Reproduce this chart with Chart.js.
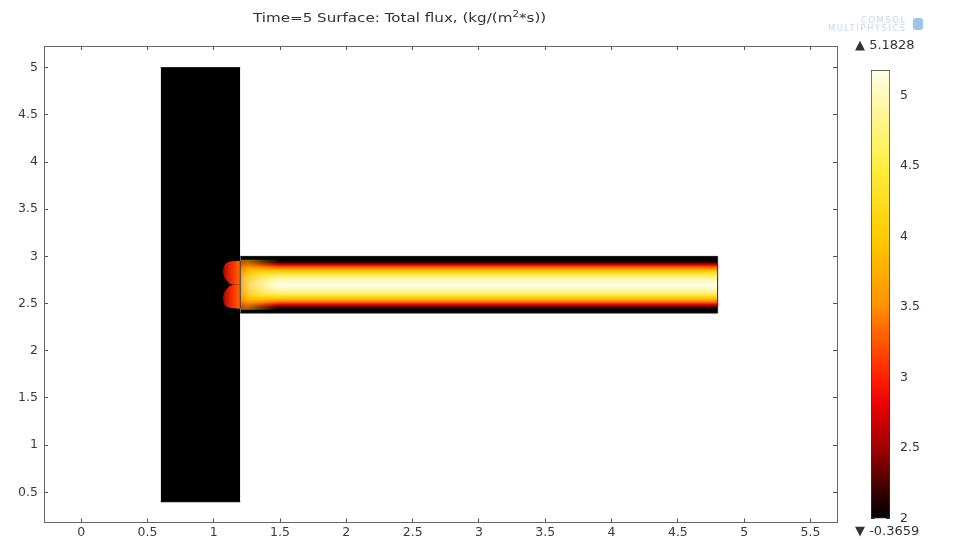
<!DOCTYPE html>
<html lang="en">
<head>
  <meta charset="UTF-8">
  <title>Time=5 Surface: Total flux</title>
  <script src="https://cdn.jsdelivr.net/npm/chart.js"></script>
  <style>
    body { margin: 0; background: #fff; font-family: 'DejaVu Sans', sans-serif; }
    #wrap { position: relative; width: 958px; height: 540px; overflow: hidden; }
    canvas { position: absolute; top: 0; }
    #main { left: 0; }
    #cbar { left: 840px; }
    .txt { position: absolute; white-space: nowrap; color: #222; }
    #title { left: 253px; top: 9px; font-size: 12.5px; color: #333; transform: scaleX(1.21); transform-origin: left top; }
    #maxlab { left: 855px; top: 37px; font-size: 13px; color: #333; }
    #minlab { left: 855px; top: 523px; font-size: 13px; color: #333; }
    #logo { left: 828px; top: 16px; font-size: 8.5px; line-height: 8px; color: #c3d8ee; text-align: right; letter-spacing: 1.5px; }
    #logo b { position: absolute; right: -16px; top: 2px; width: 10px; height: 12px; background: #9cc3e8; border-radius: 3px; }
  </style>
</head>
<body>
<div id="wrap">
  <canvas id="main" width="958" height="540"></canvas>
  <canvas id="cbar" width="118" height="540"></canvas>
  <div class="txt" id="title">Time=5 Surface: Total flux, (kg/(m<sup style="font-size:8.5px">2</sup>*s))</div>
  <div class="txt" id="logo">COMSOL<br>MULTIPHYSICS<b></b></div>
  <div class="txt" id="maxlab">&#9650; 5.1828</div>
  <div class="txt" id="minlab">&#9660; -0.3659</div>
</div>

<script>
  // axes
  const xTicks = [0, 0.5, 1, 1.5, 2, 2.5, 3, 3.5, 4, 4.5, 5, 5.5];
  const yTicks = [0.5, 1, 1.5, 2, 2.5, 3, 3.5, 4, 4.5, 5];
  const cbTicks = [2, 2.5, 3, 3.5, 4, 4.5, 5];
  const cbMin = 2, cbMax = 5.1828;

  // colour map (value -> colour)
  const cmapValues = [2, 2.2, 2.5, 2.8, 3.0, 3.3, 3.5, 4.0, 4.5, 5.0, 5.1828];
  const cmapColors = ['#000000', '#3a0000', '#a00000', '#e80000', '#ff2000', '#ff6000',
                      '#ff9000', '#ffcc00', '#ffee40', '#fff8b8', '#fffde8'];

  // geometry: black column and the channel
  const pillarTop = [{x: 0.6, y: 5.0}, {x: 1.2, y: 5.0}];
  const pillarBottom = [{x: 0.6, y: 0.4}, {x: 1.2, y: 0.4}];
  const channelTop = [{x: 1.2, y: 3.0}, {x: 4.8, y: 3.0}];
  const channelBottom = [{x: 1.2, y: 2.4}, {x: 4.8, y: 2.4}];

  // flux across the channel
  const profileY = [2.40, 2.43, 2.46, 2.49, 2.52, 2.55, 2.60, 2.65, 2.70, 2.75, 2.80, 2.85, 2.88, 2.91, 2.94, 2.97, 3.00];
  const profileV = [0, 1.2, 2.1, 2.8, 3.4, 3.9, 4.6, 5.0, 5.18, 5.0, 4.6, 3.9, 3.4, 2.8, 2.1, 1.2, 0];

  // entrance region
  const entranceTop = [{x: 1.2, y: 2.965}, {x: 1.5, y: 2.965}];
  const entranceBottom = [{x: 1.2, y: 2.435}, {x: 1.5, y: 2.435}];
  const entranceX = [1.2, 1.26, 1.38, 1.5];
  const entranceTint = ['rgba(255,120,0,0.7)', 'rgba(255,185,0,0.6)', 'rgba(255,215,0,0.25)', 'rgba(255,230,0,0)'];
  const lobeX = [1.065, 1.08, 1.1, 1.12, 1.15, 1.2];
  const lobeTopA = [2.84, 2.91, 2.935, 2.945, 2.95, 2.955];
  const lobeTopB = [2.84, 2.78, 2.74, 2.71, 2.70, 2.70];
  const lobeBotA = [2.56, 2.62, 2.66, 2.69, 2.70, 2.70];
  const lobeBotB = [2.56, 2.49, 2.465, 2.455, 2.45, 2.445];
  const lobeShadeX = [1.065, 1.09, 1.14, 1.2];
  const lobeShade = ['#700000', '#c81000', '#f53000', '#ff6a00'];
  const leftEdge = [{x: 1.2, y: 2.45}, {x: 1.2, y: 2.95}];
  const rightEdge = [{x: 4.8, y: 2.4}, {x: 4.8, y: 3.0}];

  const pts = (xs, ys) => xs.map((x, i) => ({x: x, y: ys[i]}));

  function hex(c) { return [1, 3, 5].map(i => parseInt(c.substr(i, 2), 16)); }
  function heatColor(v) {
    if (v <= cmapValues[0]) return cmapColors[0];
    for (let i = 1; i < cmapValues.length; i++) {
      if (v <= cmapValues[i]) {
        const t = (v - cmapValues[i - 1]) / (cmapValues[i] - cmapValues[i - 1]);
        const a = hex(cmapColors[i - 1]), b = hex(cmapColors[i]);
        return 'rgb(' + a.map((c, k) => Math.round(c + (b[k] - c) * t)).join(',') + ')';
      }
    }
    return cmapColors[cmapColors.length - 1];
  }

  function verticalFill(ys, colors) {
    return function (ctx) {
      const chart = ctx.chart;
      if (!chart.chartArea) return 'transparent';
      const y = chart.scales.y;
      const lo = ys[0], hi = ys[ys.length - 1];
      const g = chart.ctx.createLinearGradient(0, y.getPixelForValue(lo), 0, y.getPixelForValue(hi));
      ys.forEach((v, i) => g.addColorStop((v - lo) / (hi - lo), colors[i]));
      return g;
    };
  }
  function horizontalFill(xs, colors) {
    return function (ctx) {
      const chart = ctx.chart;
      if (!chart.chartArea) return 'transparent';
      const x = chart.scales.x;
      const lo = xs[0], hi = xs[xs.length - 1];
      const g = chart.ctx.createLinearGradient(x.getPixelForValue(lo), 0, x.getPixelForValue(hi), 0);
      xs.forEach((v, i) => g.addColorStop((v - lo) / (hi - lo), colors[i]));
      return g;
    };
  }

  Chart.defaults.font.family = "'DejaVu Sans', sans-serif";
  Chart.defaults.font.size = 12.5;
  Chart.defaults.color = '#3a3a3a';

  const shape = (data, extra) => Object.assign({
    data: data, pointRadius: 0, borderWidth: 0, fill: false, tension: 0
  }, extra);

  const fmt = v => String(v);
  const setTicks = arr => (s => { s.ticks = arr.map(v => ({value: v})); });

  new Chart(document.getElementById('main'), {
    type: 'line',
    data: {
      datasets: [
        shape(pillarTop, {order: 10, borderWidth: 1, borderColor: '#000'}),
        shape(pillarBottom, {order: 10, borderWidth: 1, borderColor: '#000', fill: '-1', backgroundColor: '#000'}),
        shape(channelTop, {order: 8, borderWidth: 1, borderColor: '#111'}),
        shape(channelBottom, {order: 8, borderWidth: 1, borderColor: '#111', fill: '-1',
          backgroundColor: verticalFill(profileY, profileV.map(heatColor))}),
        shape(entranceTop, {order: 6}),
        shape(entranceBottom, {order: 6, fill: '-1', backgroundColor: horizontalFill(entranceX, entranceTint)}),
        shape(pts(lobeX, lobeTopA), {order: 4}),
        shape(pts(lobeX, lobeTopB), {order: 4, fill: '-1', backgroundColor: horizontalFill(lobeShadeX, lobeShade)}),
        shape(pts(lobeX, lobeBotA), {order: 4}),
        shape(pts(lobeX, lobeBotB), {order: 4, fill: '-1', backgroundColor: horizontalFill(lobeShadeX, lobeShade)}),
        shape(leftEdge, {order: 1, borderWidth: 1, borderColor: '#333'}),
        shape(rightEdge, {order: 1, borderWidth: 1, borderColor: '#222'})
      ]
    },
    options: {
      responsive: false,
      animation: false,
      devicePixelRatio: 1,
      layout: { padding: { top: 46, right: 121, bottom: 0, left: 0 } },
      plugins: { legend: { display: false }, tooltip: { enabled: false } },
      scales: {
        x: {
          type: 'linear', min: -0.28, max: 5.7,
          afterBuildTicks: setTicks(xTicks),
          afterFit: s => { s.height = 17; },
          border: { color: '#666' },
          grid: { drawOnChartArea: false, tickLength: -4, color: '#555' },
          ticks: { padding: 7, callback: fmt }
        },
        x2: {
          type: 'linear', position: 'top', min: -0.28, max: 5.7,
          afterBuildTicks: setTicks(xTicks),
          afterFit: s => { s.height = 0; },
          border: { color: '#666' },
          grid: { drawOnChartArea: false, tickLength: -4, color: '#555' },
          ticks: { display: false }
        },
        y: {
          type: 'linear', min: 0.18, max: 5.23,
          afterBuildTicks: setTicks(yTicks),
          afterFit: s => { s.width = 44; },
          border: { color: '#666' },
          grid: { drawOnChartArea: false, tickLength: -4, color: '#555' },
          ticks: { padding: 10, callback: fmt }
        },
        y2: {
          type: 'linear', position: 'right', min: 0.18, max: 5.23,
          afterBuildTicks: setTicks(yTicks),
          afterFit: s => { s.width = 0; },
          border: { color: '#666' },
          grid: { drawOnChartArea: false, tickLength: -4, color: '#555' },
          ticks: { display: false }
        }
      }
    }
  });

  // colour legend
  new Chart(document.getElementById('cbar'), {
    type: 'bar',
    data: {
      labels: [''],
      datasets: [{
        data: [[cbMin, cbMax]],
        backgroundColor: verticalFill(cmapValues, cmapColors),
        borderColor: '#333',
        borderWidth: 1,
        borderSkipped: false,
        barPercentage: 1,
        categoryPercentage: 1
      }]
    },
    options: {
      responsive: false,
      animation: false,
      devicePixelRatio: 1,
      layout: { padding: { top: 70, right: 0, bottom: 20, left: 31 } },
      plugins: { legend: { display: false }, tooltip: { enabled: false } },
      scales: {
        x: { display: false },
        y: {
          min: cbMin, max: cbMax,
          afterBuildTicks: setTicks(cbTicks),
          afterFit: s => { s.width = 0; },
          border: { display: false },
          grid: { drawOnChartArea: false, tickLength: -4, color: '#333' },
          ticks: { display: false }
        },
        y2: {
          type: 'linear', position: 'right', min: cbMin, max: cbMax,
          afterBuildTicks: setTicks(cbTicks),
          afterFit: s => { s.width = 68; },
          border: { display: false },
          grid: { drawOnChartArea: false, tickLength: -4, color: '#333' },
          ticks: { padding: 14, color: '#3b2d4a', callback: fmt }
        }
      }
    }
  });
</script>
</body>
</html>
